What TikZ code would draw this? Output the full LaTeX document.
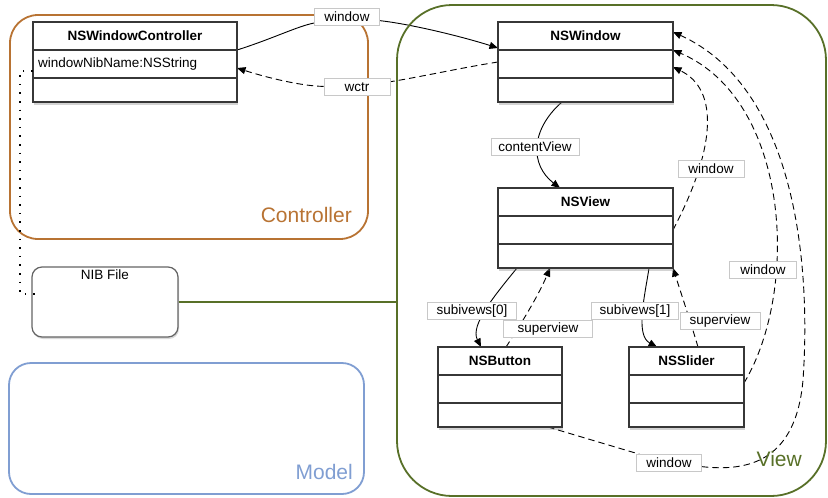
\documentclass[tikz,border=0pt]{standalone}
\usepackage{fontspec}
\setmainfont{Liberation Sans}
\usetikzlibrary{arrows.meta,shadows,calc}
\definecolor{ctrlc}{RGB}{184,115,51}
\definecolor{modelc}{RGB}{128,158,210}
\definecolor{viewc}{RGB}{88,112,40}
\definecolor{boxc}{RGB}{55,55,55}
\definecolor{lblc}{RGB}{200,200,200}
\definecolor{nibc}{RGB}{100,100,100}
\pgfdeclarelayer{bg}
\pgfsetlayers{bg,main}
\begin{document}
\begin{tikzpicture}[x=1pt,y=-1pt,
  grp/.style={draw, line width=1.8pt, inner sep=0pt, outer sep=0pt},
  grplbl/.style={font=\fontsize{21}{24}\selectfont, inner sep=0pt, anchor=east},
  cls/.style={draw=boxc, line width=1.3pt, fill=white, inner sep=0pt, outer sep=0pt,
    minimum height=80pt, drop shadow={opacity=0.35, shadow xshift=1pt, shadow yshift=-2.5pt}},
  sep/.style={draw=boxc, line width=1.3pt},
  hdr/.style={font=\fontsize{13.5}{16}\selectfont\bfseries, inner sep=0pt},
  txt/.style={font=\fontsize{13.5}{16}\selectfont, inner sep=0pt},
  lbl/.style={draw=lblc, line width=0.6pt, fill=white, font=\fontsize{13.5}{16}\selectfont,
    inner sep=0pt, minimum height=17pt},
  conn/.style={line width=0.9pt, black},
  arr/.style={-{Triangle[length=8.5pt,width=7pt]}},
  dsh/.style={dash pattern=on 6.5pt off 4pt},
  dotline/.style={line width=2pt, dash pattern=on 1.6pt off 7pt}
]
\useasboundingbox (0,0) rectangle (828,498);

% groups
\node[grp, draw=ctrlc, rounded corners=28pt, minimum width=358pt, minimum height=224pt] (cgrp) at (189,127) {};
\node[grp, draw=modelc, rounded corners=22pt, minimum width=355pt, minimum height=131pt] (mgrp) at (186.5,428.5) {};
\node[grp, draw=viewc, rounded corners=55pt, minimum width=429pt, minimum height=491pt] (vgrp) at (611.5,250.5) {};
\node[grplbl, text=ctrlc] (clbl) at (352,215) {Controller};
\node[grplbl, text=modelc] (mlbl) at (353,472) {Model};
\node[grplbl, text=viewc] (vlbl) at (802,459) {View};

% NIB file
\node[draw=nibc, line width=1.2pt, rounded corners=10pt, minimum width=146pt, minimum height=70pt,
  fill=white, drop shadow={opacity=0.3, shadow xshift=1pt, shadow yshift=-2pt}] (nib) at (105,302) {};
\node[txt] (nibt) at ($(nib.north)+(0,8)$) {NIB File};
\draw[viewc, line width=1.8pt] (nib.east) -- (nib.east -| vgrp.west);

% classes
\node[cls, minimum width=204pt] (nwc) at (135,62) {};
\node[cls, minimum width=175pt] (win) at (585.5,62) {};
\node[cls, minimum width=175pt] (view) at (585.5,228) {};
\node[cls, minimum width=124pt] (btn) at (500,387) {};
\node[cls, minimum width=115pt] (sld) at (686.5,387) {};
\foreach \c in {nwc,win,view,btn,sld}{
  \draw[sep] ($(\c.north west)+(0,28)$) -- ($(\c.north east)+(0,28)$);
  \draw[sep] ($(\c.north west)+(0,56)$) -- ($(\c.north east)+(0,56)$);
}
\node[hdr] (nwch) at ($(nwc.north)+(0,14)$) {NSWindowController};
\node[txt, anchor=west] (nwca) at ($(nwc.north west)+(5,42)$) {windowNibName:NSString};
\node[hdr] (winh) at ($(win.north)+(0,14)$) {NSWindow};
\node[hdr] (viewh) at ($(view.north)+(0,14)$) {NSView};
\node[hdr] (btnh) at ($(btn.north)+(0,14)$) {NSButton};
\node[hdr] (sldh) at ($(sld.north)+(0,14)$) {NSSlider};

\draw[dotline] ($(nwc.north west)+(0,49)$) -- (20,71) -- (20,294) -- ($(nib.west)+(10,-8)$);

% labels
\node[lbl, minimum width=65pt] (lw1) at (347,17) {window};
\node[lbl, minimum width=66pt] (lwc) at (357,87) {wctr};
\node[lbl, minimum width=88pt] (lcv) at (535,147) {contentView};
\node[lbl, minimum width=66pt] (lw2) at (711,169) {window};
\node[lbl, minimum width=67pt] (lw3) at (763,270) {window};
\node[lbl, minimum width=89pt] (ls0) at (472,311) {subivews[0]};
\node[lbl, minimum width=89pt] (lsp0) at (548,329) {superview};
\node[lbl, minimum width=87pt] (ls1) at (635,311) {subivews[1]};
\node[lbl, minimum width=80pt] (lsp1) at (720,321) {superview};
\node[lbl, minimum width=65pt] (lwb) at (669,463) {window};

\begin{pgfonlayer}{bg}
% window (controller -> NSWindow)
\draw[conn] ($(nwc.north east)+(0,28)$) .. controls (272,39) and (298,26) .. (lw1);
\draw[conn,arr] (lw1) .. controls (410,24) and (460,36) .. ($(win.north west)+(0,26)$);
% wctr
\draw[conn,dsh] ($(win.north west)+(0,40)$) .. controls (460,68) and (420,77) .. (lwc);
\draw[conn,dsh,arr] (lwc) .. controls (300,86) and (265,77) .. ($(nwc.north east)+(0,46)$);
% contentView
\draw[conn,arr] ($(win.south west)+(64,0)$) .. controls (530,130) and (530,165) .. ($(view.north west)+(62,0)$);
% NSView window
\draw[conn,dsh,arr] ($(view.north east)+(0,42)$) .. controls (715,150) and (720,90) .. ($(win.north east)+(0,45)$);
% subviews[0]
\draw[conn,arr] ($(view.south west)+(19,0)$) .. controls (495,295) and (470,325) .. ($(btn.north west)+(43,0)$);
% superview (button)
\draw[conn,dsh,arr] ($(btn.north west)+(68,0)$) .. controls (525,318) and (540,292) .. ($(view.south west)+(52,0)$);
% subviews[1]
\draw[conn,arr] ($(view.south west)+(151,0)$) .. controls (645,295) and (635,335) .. ($(sld.north west)+(28,0)$);
% superview (slider)
\draw[conn,dsh,arr] ($(sld.north west)+(69,0)$) .. controls (690,320) and (680,290) .. (view.south east);
% slider window
\draw[conn,dsh,arr] ($(sld.north east)+(0,36)$) .. controls (800,290) and (790,100) .. ($(win.north east)+(0,28)$);
% button window
\draw[conn,dsh] ($(btn.south west)+(110,0)$) -- (lwb);
\draw[conn,dsh,arr] (lwb) .. controls (750,472) and (796,460) .. (803,380) .. controls (812,250) and (790,85) .. ($(win.north east)+(0,10)$);
\end{pgfonlayer}
\end{tikzpicture}
\end{document}
